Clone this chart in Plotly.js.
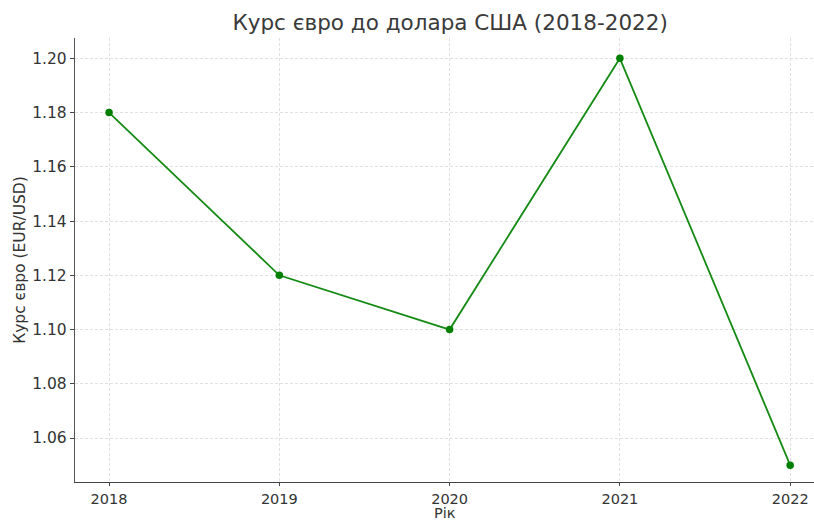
<!DOCTYPE html>
<html><head><meta charset="utf-8">
<script src="https://cdn.plot.ly/plotly-3.0.1.min.js"></script>
<style>body{margin:0;padding:0;background:#fff}#chart{width:814px;height:524px}</style>
</head><body><div id="chart"></div>
<script>
const years = [2018, 2019, 2020, 2021, 2022];
const rates = [1.18, 1.12, 1.10, 1.20, 1.05];
const yTicks = [1.06, 1.08, 1.10, 1.12, 1.14, 1.16, 1.18, 1.20];

const trace = {
  x: years, y: rates, type: 'scatter', mode: 'lines+markers',
  line: {color: '#158a15', width: 1.8},
  marker: {color: '#008000', size: 7.5}
};
const font = {family: 'DejaVu Sans, sans-serif', color: '#333333'};
const layout = {
  width: 814, height: 524,
  margin: {l: 75, r: 0, t: 38, b: 42},
  paper_bgcolor: '#fff', plot_bgcolor: '#fff',
  font: font,
  showlegend: false,
  title: {text: 'Курс євро до долара США (2018-2022)', font: {family: font.family, size: 21.5, color: '#3a3a3a'}, x: 0.553, xanchor: 'center', y: 0.958, yanchor: 'middle'},
  xaxis: {
    range: [2017.8, 2022.14], tickvals: years, ticktext: years.map(String),
    showgrid: true, gridcolor: '#d8d8d8', griddash: '3px,2px', gridwidth: 0.8,
    showline: true, linecolor: '#444', linewidth: 1.2, zeroline: false,
    ticks: 'outside', ticklen: 3, tickcolor: '#444',
    tickfont: {size: 14.5, color: '#333'},
    automargin: false
  },
  yaxis: {
    range: [1.0438, 1.2075], tickvals: yTicks, ticktext: yTicks.map(v => v.toFixed(2)),
    showgrid: true, gridcolor: '#d8d8d8', griddash: '3px,2px', gridwidth: 0.8,
    showline: true, linecolor: '#555', linewidth: 1.2, zeroline: false,
    ticks: 'outside', ticklen: 4, tickcolor: '#444',
    tickfont: {size: 15.5, color: '#333'},
    automargin: false,
    title: {text: 'Курс євро (EUR/USD)', font: {size: 15.5, color: '#333'}, standoff: 2}
  },
  annotations: [{
    text: 'Рік', xref: 'paper', yref: 'paper', x: 0.5, y: 0,
    xanchor: 'center', yanchor: 'middle', yshift: -31, showarrow: false,
    borderpad: 0, font: {size: 14.5, color: '#333'}
  }]
};
Plotly.newPlot('chart', [trace], layout, {displayModeBar: false, staticPlot: true});
</script></body></html>
